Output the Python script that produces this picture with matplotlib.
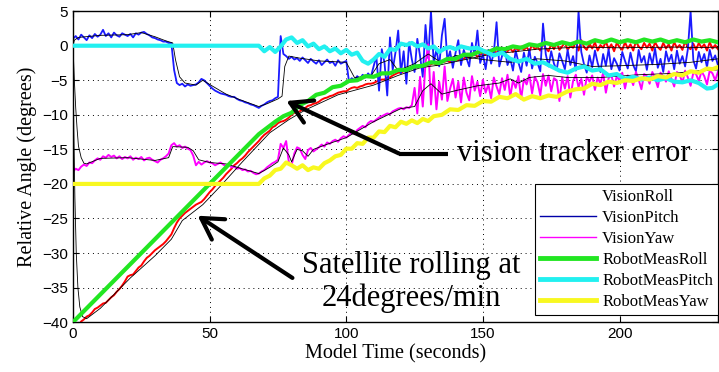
import numpy as np
import matplotlib.pyplot as plt
from matplotlib.lines import Line2D

# sample grid of the vision data (one value per second)
t = np.arange(0, 237)

vision_roll = [
    -41.5, -41.0, -40.5, -39.9, -39.6, -39.2, -39.0, -38.6, -38.1, -37.9,
    -37.6, -37.3, -37.2, -36.8, -36.4, -36.1, -35.6, -35.2, -34.7, -34.1,
    -33.4, -33.2, -33.1, -32.6, -32.1, -31.8, -31.2, -30.7, -30.4, -30.0,
    -29.6, -29.3, -29.0, -28.7, -28.3, -27.8, -27.3, -26.4, -25.6, -25.0,
    -24.6, -24.2, -23.9, -23.6, -23.3, -23.0, -22.8, -22.6, -22.2, -21.7,
    -21.2, -20.8, -20.3, -19.9, -19.5, -19.1, -18.6, -18.2, -17.8, -17.3,
    -17.0, -16.6, -16.3, -15.9, -15.4, -15.0, -14.6, -14.2, -13.8, -13.3,
    -12.9, -12.6, -12.3, -11.8, -11.6, -11.2, -11.0, -10.9, -10.7, -10.4,
    -10.0, -9.7, -9.6, -9.5, -9.2, -9.0, -8.7, -8.6, -8.4, -8.3,
    -8.1, -7.8, -7.6, -7.5, -7.3, -7.2, -7.0, -6.8, -6.7, -6.6,
    -6.6, -6.3, -6.1, -6.0, -6.1, -5.9, -5.8, -5.6, -5.5, -5.5,
    -5.4, -5.2, -5.0, -4.9, -4.9, -4.6, -4.6, -4.3, -4.1, -3.9,
    -3.9, -3.7, -3.4, -3.5, -3.2, -3.3, -3.0, -2.9, -3.0, -2.8,
    -2.9, -2.7, -2.5, -2.8, -2.6, -2.4, -2.3, -2.2, -2.4, -2.1,
    -2.0, -2.1, -1.8, -1.9, -1.6, -1.7, -1.5, -1.2, -1.6, -1.3,
    -1.1, -1.3, -0.9, -1.2, -0.8, -1.0, -0.6, -1.0, -0.5, -0.8,
    -0.4, -0.9, -0.3, -0.7, -0.1, -0.6, -0.2, -0.8, 0.1, -0.5,
    -0.2, -0.7, 0.3, -0.4, -0.8, 0.2, -0.5, 0.4, -0.6, -0.1,
    0.5, -0.6, 0.0, -0.3, 0.6, -0.7, 0.8, -0.2, -0.6, 0.3,
    -0.4, 0.5, -0.7, 0.1, -0.3, 0.6, -0.5, 0.2, -0.8, 0.4,
    -0.2, -0.6, 0.5, -0.4, 0.2, -0.7, 0.6, -0.1, -0.5, 0.4,
    -0.3, 0.3, -0.7, 0.5, -0.2, -0.6, 0.4, -0.4, 0.2, -0.7,
    0.5, -0.3, 0.1, -0.6, 0.6, -0.2, -0.5, 0.3, -0.6, 0.4,
    -0.3, 0.2, -0.7, 0.5, -0.4, 0.1, -0.5]

vision_pitch = [
    1.0, 1.4, 0.9, 1.6, 1.2, 0.8, 1.5, 1.1, 1.7, 1.3,
    1.6, 2.3, 1.4, 1.8, 1.2, 1.9, 1.5, 1.3, 1.8, 1.6,
    1.4, 1.7, 1.2, 1.8, 1.6, 1.9, 2.0, 1.7, 1.5, 1.2,
    1.1, 0.9, 0.8, 0.6, 0.6, 0.4, 0.4, -3.5, -5.4, -5.7,
    -5.5, -5.9, -5.6, -5.8, -5.7, -5.6, -5.3, -4.8, -5.0, -5.4,
    -5.8, -6.2, -6.5, -6.7, -6.9, -7.0, -7.1, -7.3, -7.4, -7.4,
    -7.7, -7.9, -8.0, -8.2, -8.3, -8.5, -8.6, -8.8, -9.0, -8.7,
    -8.5, -8.2, -8.0, -7.9, -7.6, -7.4, 1.4, -1.2, -1.5, -1.9,
    -1.6, -2.0, -1.8, -2.2, -1.7, -2.1, -2.5, -1.9, -2.3, -2.6,
    -2.1, -2.8, -2.4, -2.0, -2.5, -2.3, -2.9, -2.1, -2.6, -2.4,
    -2.2, -5.2, -4.7, -5.0, -4.4, -4.8, -4.2, -4.6, -4.0, -4.5,
    -3.0, -1.5, -6.5, -0.5, -2.5, -7.2, 1.2, -3.5, -1.0, 2.2,
    -4.0, -0.8, -5.5, 0.5, -2.0, -3.8, 1.0, -1.5, -4.5, 3.0,
    -1.8, 5.0, -2.5, -0.5, -3.0, 1.5, 3.9, -2.2, -0.8, -3.2,
    -1.0, 0.8, -2.8, -0.6, -1.8, -3.0, 0.4, -1.4, 2.2, -2.5,
    -1.2, -3.4, -0.6, -2.6, -1.0, 3.4, -3.0, -1.5, -0.4, -2.8,
    -1.8, -3.6, -0.7, -2.4, -3.8, -1.0, -2.9, -0.5, -3.3, -1.6,
    -2.5, -3.7, 3.2, -1.2, -3.0, -0.8, -2.6, -3.5, -1.1, -2.2,
    -3.4, -0.6, -2.8, -1.5, -3.6, 5.0, -0.9, -2.7, -3.9, -1.4,
    -3.1, -0.7, -2.5, -3.8, -1.2, -2.9, -0.5, -3.4, -1.8, -2.6,
    -3.6, -0.9, -2.2, -3.3, -1.0, -2.8, -3.7, -0.6, -2.4, -1.5,
    -3.5, -1.1, -2.7, -0.4, -3.2, -1.9, -3.8, -0.8, -2.3, -1.3,
    -3.4, -0.7, -2.6, -1.5, -3.0, -0.5, 5.0, -2.1, -3.3, -0.9,
    -2.4, -1.2, -3.1, -0.6, -2.2, -1.4, -2.8]

vision_yaw = [
    -18.2, -17.8, -18.0, -17.5, -17.2, -17.4, -16.9, -17.0, -16.6, -16.3,
    -16.5, -16.0, -16.2, -15.8, -16.1, -15.9, -16.3, -16.0, -16.4, -16.1,
    -16.3, -16.0, -16.5, -16.2, -16.4, -16.1, -16.6, -16.3, -16.2, -16.5,
    -16.7, -16.9, -16.5, -16.3, -16.0, -15.6, -14.4, -14.1, -14.6, -14.4,
    -14.8, -14.6, -14.9, -15.1, -15.9, -17.3, -16.8, -17.2, -16.9, -16.7,
    -16.9, -17.0, -17.3, -17.1, -16.9, -17.2, -17.4, -17.2, -17.6, -17.5,
    -17.8, -17.7, -18.0, -17.9, -18.2, -18.1, -18.4, -18.6, -18.5, -18.2,
    -18.0, -17.6, -17.3, -17.0, -16.8, -16.5, -14.2, -14.8, -13.8, -16.9,
    -17.3, -15.6, -14.7, -14.9, -15.8, -16.4, -15.1, -14.8, -15.3, -15.0,
    -14.7, -14.3, -14.6, -14.0, -14.2, -13.8, -13.6, -13.9, -13.4, -13.1,
    -13.3, -12.9, -12.6, -12.8, -12.2, -11.9, -11.6, -11.8, -11.2, -10.9,
    -11.0, -10.7, -10.4, -10.2, -10.0, -9.8, -9.9, -9.5, -9.3, -9.1,
    -9.0, -9.2, -8.9, -9.0, -8.6, -6.1, -9.8, -4.5, -8.8, -2.5,
    0.2, -8.5, -3.8, -9.2, -5.2, -7.8, -3.0, -8.0, -6.2, -4.8,
    -7.5, -5.2, -8.2, -4.6, -6.8, -7.9, -4.4, -6.5, -5.2, -7.3,
    -4.9, -6.8, -5.6, -7.6, -4.6, -5.9, -7.0, -4.7, -6.4, -4.2,
    -7.4, -5.0, -6.1, -4.4, -7.7, -4.8, -5.6, -4.2, -6.9, -4.5,
    -5.3, -7.2, -4.1, -5.8, -4.3, -6.6, -4.7, -5.0, -8.0, -4.6,
    -6.2, -4.4, -7.5, -5.1, -4.2, -6.0, -4.8, -7.1, -4.5, -5.2,
    -4.3, -6.4, -4.6, -5.5, -3.9, -6.8, -4.7, -4.2, -5.9, -4.4,
    -5.1, -3.9, -6.2, -4.3, -4.6, -5.7, -3.8, -4.9, -6.3, -4.1,
    -4.4, -5.5, -3.8, -4.7, -6.0, -3.9, -4.5, -5.2, -3.7, -4.8,
    -5.9, -3.8, -4.2, -5.4, -3.6, -4.6, -5.8, -3.9, -4.1, -5.1,
    -3.7, -4.4, -5.6, -3.6, -4.0, -5.0, -3.8]

# filtered (black) vision estimates
roll_filt_t = [0, 0.3, 0.7, 1.2, 1.8, 2.5, 3.5, 5, 7, 10, 21, 30, 36, 40, 47.5,
               54, 62, 72, 79, 85, 97, 110, 119, 127, 134, 152, 170, 185, 200,
               220, 236]
roll_filt_v = [0, -12, -22, -30, -35, -37.8, -39.2, -39.5, -38.9, -38.0, -33.6,
               -30.4, -28.0, -25.3, -23.0, -20.3, -16.8, -12.6, -10.7, -9.3,
               -7.1, -5.7, -4.3, -3.2, -2.8, -1.3, -0.5, -0.2, -0.3, -0.2, -0.3]

pitch_filt_t = [0, 0.5, 2, 10, 20, 25, 30, 34, 36.5, 37.5, 39, 41, 45, 47.5, 50,
                56, 61, 68, 71, 75, 76.5, 77.5, 79, 83, 90, 100, 101.5, 103, 109,
                112, 116, 119, 125, 130, 135, 140, 150, 160, 170, 180, 190, 200,
                214, 226, 236]
pitch_filt_v = [0, 0.8, 1.2, 1.5, 1.6, 1.9, 1.3, 0.7, 0.4, -2.0, -4.5, -5.4,
                -5.7, -5.0, -5.6, -7.0, -7.8, -8.8, -8.4, -7.7, -7.3, -3.0, -1.5,
                -1.8, -2.2, -2.4, -3.5, -4.6, -4.4, -2.6, -2.0, -3.6, -2.6, -1.2,
                -2.5, -1.4, -2.0, -2.4, -1.9, -2.2, -3.0, -2.9, -2.7, -2.4, -1.9]

yaw_filt_t = [0, 0.5, 1, 1.5, 2, 3, 4, 5, 10, 20, 30, 35, 36.5, 42, 44, 46, 50,
              56, 61, 68, 72, 75, 77, 79, 80, 82, 84, 86, 88, 92, 100, 110, 120,
              125, 128, 131, 135, 140, 148, 156, 160, 163, 167, 174, 181, 193,
              207, 220, 229, 236]
yaw_filt_v = [0, -5, -9, -12, -14.5, -16.2, -17.0, -17.1, -16.3, -16.2, -16.6,
              -16.2, -14.6, -14.7, -15.2, -16.5, -16.9, -17.1, -17.7, -18.5,
              -17.6, -16.8, -14.8, -15.8, -16.8, -15.0, -15.2, -16.0, -15.0,
              -14.4, -13.3, -11.0, -9.1, -8.8, -6.5, -5.5, -7.0, -6.5, -5.8,
              -5.4, -4.8, -5.4, -4.6, -4.3, -4.6, -4.6, -4.2, -4.0, -3.6, -3.5]

# robot measurements
meas_roll_t = [0, 68, 71, 74, 77, 80, 83, 86, 89, 92, 95, 98, 101, 104, 107,
               110, 113, 116, 119, 122, 125, 128, 131, 134, 137, 140, 143, 146,
               149, 152, 155, 158, 161, 164, 167, 170, 173, 176, 179, 182, 185,
               188, 191, 194, 197, 200, 203, 206, 209, 212, 215, 218, 221, 224,
               227, 230, 233, 236]
meas_roll_v = [-40, -12.8, -11.9, -11.0, -10.2, -9.7, -8.6, -8.0, -7.1, -6.8,
               -6.0, -5.8, -5.1, -5.0, -4.4, -4.5, -4.0, -4.0, -3.5, -3.5, -3.0,
               -2.9, -2.4, -2.5, -1.9, -1.9, -1.3, -1.3, -0.8, -0.9, -0.4, -0.5,
               -0.1, -0.3, 0.2, 0.0, 0.4, 0.1, 0.5, 0.2, 0.6, 0.3, 0.8, 0.5, 0.9,
               0.5, 0.8, 0.5, 0.9, 0.6, 0.9, 0.5, 0.8, 0.5, 0.9, 0.6, 0.8, 0.5]

meas_pitch_t = [0, 68, 70, 72, 74, 76, 78, 80, 82, 84, 86, 88, 90, 92, 94, 96,
                98, 100, 102, 104, 106, 108, 110, 112, 114, 116, 118, 120, 122,
                124, 126, 128, 130, 132, 134, 136, 138, 140, 142, 145, 148, 151,
                154, 157, 160, 163, 166, 169, 172, 175, 178, 181, 184, 187, 190,
                193, 196, 199, 202, 205, 208, 211, 214, 217, 220, 223, 226, 229,
                232, 234, 236]
meas_pitch_v = [0, 0, -0.8, -0.2, -0.9, -0.1, 0.9, 1.2, 0.4, 0.8, -0.1, 0.3,
                -0.5, -0.1, -0.8, -0.4, -1.1, -0.6, -1.3, -1.0, -2.2, -2.6, -2.0,
                -1.2, -1.6, -0.5, -0.6, 0.3, 0.1, 0.4, -0.1, 0.2, -0.4, -0.1,
                -0.9, -0.4, -0.2, -0.5, -0.1, -0.4, -0.3, -0.9, -1.4, -1.0, -1.9,
                -2.3, -1.9, -2.6, -2.4, -3.0, -3.6, -3.9, -3.3, -3.0, -3.6, -3.4,
                -4.3, -4.1, -4.8, -4.5, -4.9, -4.6, -5.0, -4.7, -5.2, -5.3, -5.0,
                -5.4, -6.2, -6.1, -5.6]

meas_yaw_t = [0, 68, 70, 72, 74, 76, 78, 80, 82, 84, 86, 88, 90, 92, 94, 96, 98,
              100, 102, 104, 106, 108, 110, 112, 114, 116, 118, 120, 122, 124,
              126, 128, 130, 132, 135, 138, 141, 144, 147, 150, 153, 156, 159,
              162, 165, 168, 171, 174, 177, 181, 184, 187, 190, 193, 196, 199,
              202, 205, 208, 211, 214, 217, 220, 223, 226, 229, 232, 234, 236]
meas_yaw_v = [-20, -20, -19.2, -18.8, -18.0, -17.8, -16.9, -17.3, -17.8, -17.3,
              -18.0, -17.6, -17.8, -17.0, -16.6, -16.0, -15.8, -14.9, -14.9,
              -14.1, -14.2, -13.3, -13.3, -12.4, -12.5, -11.6, -11.8, -11.0,
              -11.3, -10.8, -11.2, -10.6, -10.9, -10.2, -10.0, -9.2, -9.3, -8.6,
              -8.7, -8.0, -8.1, -7.4, -7.6, -7.0, -7.8, -7.3, -7.6, -7.2, -7.4,
              -6.6, -6.3, -6.2, -5.5, -5.7, -5.2, -5.4, -5.0, -5.1, -4.7, -4.9,
              -4.4, -4.6, -4.1, -4.3, -3.7, -3.9, -3.3, -3.4, -3.1]

legend_labels = ['VisionRoll', 'VisionPitch', 'VisionYaw',
                 'RobotMeasRoll', 'RobotMeasPitch', 'RobotMeasYaw']

serif = ['Liberation Serif', 'DejaVu Serif']
plt.rcParams['font.family'] = ['Liberation Sans', 'DejaVu Sans']

fig = plt.figure(figsize=(7.19, 3.72), dpi=100)
ax = fig.add_axes([0.1015, 0.134, 0.897, 0.836])

c_green = '#22e622'
c_cyan = '#22f0f0'
c_yellow = '#f8f820'

ax.plot(t, vision_roll, color='#ff0000', lw=1.4, zorder=2)
ax.plot(t, vision_pitch, color='#1a1aff', lw=1.3, zorder=2)
ax.plot(t, vision_yaw, color='#ff00ff', lw=1.4, zorder=2)
ax.plot(roll_filt_t, roll_filt_v, color='k', lw=0.6, zorder=3)
ax.plot(pitch_filt_t, pitch_filt_v, color='k', lw=0.6, zorder=3)
ax.plot(yaw_filt_t, yaw_filt_v, color='k', lw=0.6, zorder=3)
ax.plot(meas_roll_t, meas_roll_v, color=c_green, lw=3, zorder=4)
ax.plot(meas_pitch_t, meas_pitch_v, color=c_cyan, lw=3, zorder=4)
ax.plot(meas_yaw_t, meas_yaw_v, color=c_yellow, lw=3, zorder=4)

ax.set_xlim(0, 236)
ax.set_ylim(-40, 5)
ax.set_xticks([0, 50, 100, 150, 200])
ax.set_yticks(np.arange(-40, 6, 5))
ax.tick_params(direction='in', labelsize=11, length=4, top=True, right=True)
ax.grid(True, linestyle=(0, (1, 4)), color='k', lw=0.7)
for s in ax.spines.values():
    s.set_linewidth(1.0)

ax.set_xlabel('Model Time (seconds)', family=serif, fontsize=14.5, labelpad=2)
ax.set_ylabel('Relative Angle (degrees)', family=serif, fontsize=14.5, labelpad=4)

# annotations
arrow = dict(arrowstyle='->, head_length=0.6, head_width=0.35', lw=3,
             color='k', mutation_scale=25, shrinkA=0, shrinkB=0)
ax.annotate('', xy=(78.1, -8.0), xytext=(119.3, -15.6), arrowprops=arrow, zorder=6)
ax.plot([119.3, 137.2], [-15.6, -15.6], color='k', lw=3, zorder=6,
        solid_capstyle='butt')
ax.text(140.5, -15.6, 'vision tracker error', family=serif, fontsize=22,
        ha='left', va='center', zorder=6)
ax.annotate('', xy=(45.6, -24.6), xytext=(80.3, -33.6), arrowprops=arrow, zorder=6)
ax.text(123.7, -34.2, 'Satellite rolling at\n24degrees/min', family=serif,
        fontsize=22, ha='center', va='center', multialignment='center',
        linespacing=1.15, zorder=6)

handles = [Line2D([], [], color='none', lw=1),
           Line2D([], [], color='#0000a8', lw=1),
           Line2D([], [], color='#ff00ff', lw=1),
           Line2D([], [], color=c_green, lw=3.5),
           Line2D([], [], color=c_cyan, lw=3.5),
           Line2D([], [], color=c_yellow, lw=3.5)]
leg = ax.legend(handles, legend_labels, loc='lower right',
                bbox_to_anchor=(1.0, 0.022), borderaxespad=0, fancybox=False,
                edgecolor='k', framealpha=1, prop={'family': serif, 'size': 12},
                handlelength=3.4, handletextpad=0.35, labelspacing=0.3,
                borderpad=0.3)
leg.get_frame().set_linewidth(0.8)
leg.set_zorder(7)

fig.savefig('out.png', dpi=100)
